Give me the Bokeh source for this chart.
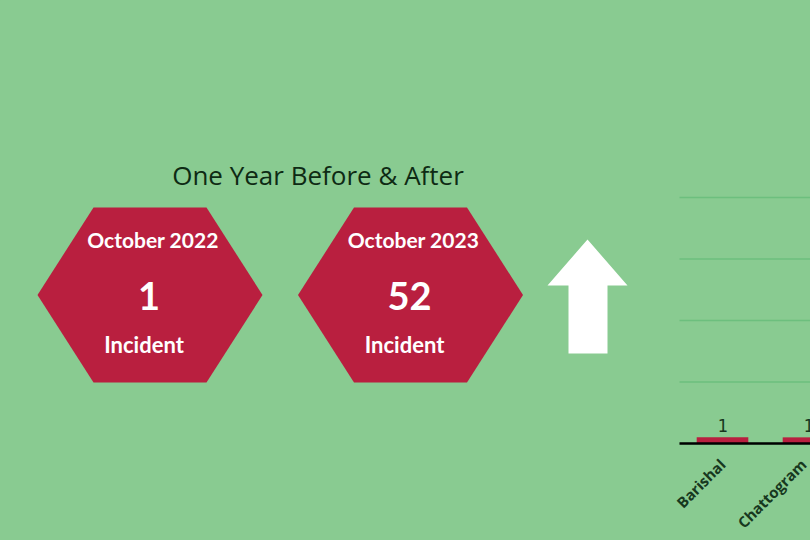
import math
from bokeh.plotting import figure
from bokeh.layouts import row
from bokeh.models import Range1d, FixedTicker, ColumnDataSource
from bokeh.core.properties import value
from bokeh.embed import file_html
from bokeh.resources import INLINE

# ---------------- data ----------------
panel_title = "One Year Before & After"
months = ["October 2022", "October 2023"]
incidents = [1, 52]
unit_labels = ["Incident", "Incident"]

districts = ["Barishal", "Chattogram"]
district_counts = [1, 1]
y_ticks = [0, 10, 20, 30, 40]

# ---------------- style ----------------
BG = "#89CB91"
CRIMSON = "#B91F3F"
GRID = "#6DBF7E"
DARK = "#0E2A14"
LABEL = "#17381E"

# ---------------- left panel (KPI hexagons) ----------------
W1, H = 660, 540
p1 = figure(width=W1, height=H, x_range=Range1d(0, W1), y_range=Range1d(H, 0),
            output_backend="svg", toolbar_location=None, min_border=0)
p1.axis.visible = False
p1.grid.visible = False
p1.outline_line_color = None
p1.background_fill_color = BG
p1.border_fill_color = BG

hex_cx = [149.5, 410.0]
hex_cy = 294.5
hw, hh, top_half = 112.5, 87.5, 56.5
xs, ys = [], []
for cx in hex_cx:
    xs.append([cx - hw, cx - top_half, cx + top_half, cx + hw, cx + top_half, cx - top_half])
    ys.append([hex_cy, hex_cy - hh, hex_cy - hh, hex_cy, hex_cy + hh, hex_cy + hh])
p1.patches(xs=xs, ys=ys, fill_color=CRIMSON, line_color=None)

src = ColumnDataSource(dict(x=hex_cx, month=months,
                            val=[str(v) for v in incidents], unit=unit_labels))
p1.text(x="x", y=239, text="month", source=src, x_offset=3, text_align="center",
        text_baseline="middle", text_font=value("Lato"), text_font_style="bold",
        text_font_size="21px", text_color="white")
p1.text(x="x", y=295, text="val", source=src, x_offset=-1, text_align="center",
        text_baseline="middle", text_font=value("Lato"), text_font_style="bold",
        text_font_size="38px", text_color="white")
p1.text(x="x", y=344, text="unit", source=src, x_offset=-6, text_align="center",
        text_baseline="middle", text_font=value("Lato"), text_font_style="bold",
        text_font_size="22px", text_color="white")

p1.text(x=[317.5], y=[174], text=[panel_title], text_align="center", text_baseline="middle",
        text_font=value("Open Sans"), text_font_size="26px", text_color=DARK)

# up arrow (increase indicator)
ax = [587, 627, 607, 607, 568, 568, 547]
ay = [239, 285, 285, 353, 353, 285, 285]
p1.patch(x=ax, y=ay, fill_color="white", line_color=None)

# ---------------- right panel (bar chart, cut by window) ----------------
W2 = 810 - W1
pad_left = 19.0                          # px between panel edge and first category
cat_px = 86.0
top_px, base_px = 197.0, 443.0          # pixel rows of the 40 and 0 gridlines
ppu = (base_px - top_px) / (y_ticks[-1] - y_ticks[0])
y0 = -(H - base_px) / ppu
y1 = y_ticks[-1] + top_px / ppu
x0 = -pad_left / cat_px
x1 = x0 + W2 / cat_px
p2 = figure(width=W2, height=H, x_range=Range1d(x0, x1), y_range=Range1d(y0, y1),
            output_backend="svg", toolbar_location=None, min_border=0)
p2.background_fill_color = BG
p2.border_fill_color = BG
p2.outline_line_color = None
p2.yaxis.visible = False
p2.grid.visible = False

# horizontal gridlines starting at the first category band
n = len(districts)
p2.segment(x0=[0] * len(y_ticks), x1=[n] * len(y_ticks), y0=y_ticks, y1=y_ticks,
           line_color=GRID, line_width=1.5)

pos = [i + 0.5 for i in range(n)]
xa = p2.xaxis[0]
xa.fixed_location = 0
xa.bounds = (0, n)
xa.ticker = FixedTicker(ticks=pos)
xa.major_label_overrides = {pos[i]: districts[i] for i in range(n)}
xa.major_label_orientation = math.pi / 4
xa.major_label_text_font = "Open Sans"
xa.major_label_text_font_style = "bold"
xa.major_label_text_font_size = "15px"
xa.major_label_text_color = LABEL
xa.axis_line_color = "black"
xa.axis_line_width = 2.5
xa.major_tick_line_color = None
xa.minor_tick_line_color = None
xa.major_label_standoff = 12

bsrc = ColumnDataSource(dict(x=pos, top=district_counts, lbl=[str(v) for v in district_counts]))
p2.vbar(x="x", top="top", bottom=0, width=0.6, source=bsrc, fill_color=CRIMSON, line_color=None)
p2.text(x="x", y="top", text="lbl", source=bsrc, y_offset=-5, text_align="center",
        text_baseline="bottom", text_font=value("DejaVu Sans Mono"), text_font_size="17px",
        text_color=LABEL)

layout = row(p1, p2, spacing=0)

html = file_html(layout, INLINE)
html = html.replace("<head>", "<head><style>html,body{margin:0;padding:0;background:%s;overflow:hidden}</style>" % BG, 1)
open("out.html", "w").write(html)
